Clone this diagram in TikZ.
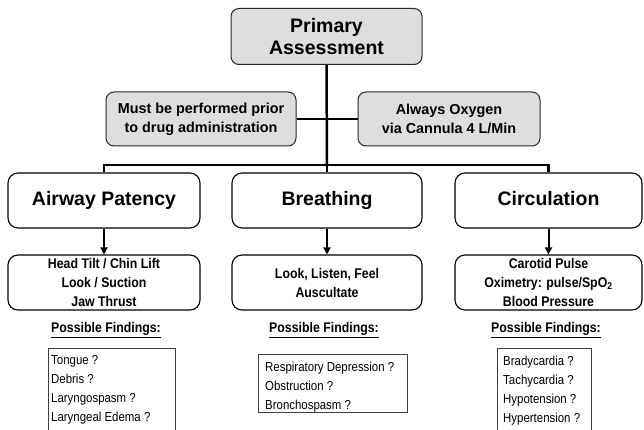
\documentclass[tikz,border=0pt]{standalone}
\usepackage{fontspec}
\setmainfont{Liberation Sans}
\newfontfamily\narrowfont[FakeStretch=0.88]{Liberation Sans}
\usetikzlibrary{arrows.meta}
\tikzset{
  graybox/.style={draw=black!85, line width=1pt, fill=black!13, rounded corners=8pt,
    inner sep=0pt, align=center},
  whitebox/.style={draw=black, line width=1.1pt, fill=white, rounded corners=10pt,
    inner sep=0pt, align=center},
  bigtxt/.style={font=\bfseries\fontsize{19.5}{22}\selectfont},
  l2txt/.style={font=\bfseries\fontsize{19.5}{22}\selectfont, text height=14pt, text depth=4pt},
  sidetxt/.style={font=\bfseries\fontsize{14.4}{19}\selectfont},
  midtxt/.style={font=\narrowfont\bfseries\fontsize{14}{19}\selectfont},
  pftxt/.style={font=\narrowfont\bfseries\fontsize{14}{17}\selectfont, inner sep=0pt},
  findbox/.style={draw=black!75, line width=0.8pt, inner sep=0pt},
  findtxt/.style={font=\narrowfont\fontsize{13}{19}\selectfont, align=left, inner sep=0pt, anchor=north west},
  conn/.style={line width=2.5pt},
  arr/.style={line width=2pt, -{Triangle[length=7pt,width=7pt]}}
}
\begin{document}
\begin{tikzpicture}[x=1pt,y=-1pt]
\useasboundingbox (0,0) rectangle (644,430);
\clip (0,0) rectangle (644,430);

% top
\node[graybox, bigtxt, minimum width=191pt, minimum height=56pt] (pa) at (326.5,36.5) {Primary\\Assessment};
\node[graybox, sidetxt, minimum width=190pt, minimum height=54pt] (sl) at (201,119) {Must be performed prior\\to drug administration};
\node[graybox, sidetxt, minimum width=182pt, minimum height=54pt] (sr) at (449,119) {Always Oxygen\\via Cannula 4 L/Min};

% level 2
\node[whitebox, l2txt, minimum width=192pt, minimum height=55pt] (aw) at (104,200.5) {Airway Patency};
\node[whitebox, l2txt, minimum width=190pt, minimum height=55pt] (br) at (327,200.5) {Breathing};
\node[whitebox, l2txt, minimum width=187pt, minimum height=55pt] (ci) at (548.5,200.5) {Circulation};

% level 3
\node[whitebox, midtxt, minimum width=192pt, minimum height=55pt] (aw3) at (104,282.5) {Head Tilt / Chin Lift\\Look / Suction\\Jaw Thrust};
\node[whitebox, midtxt, minimum width=190pt, minimum height=55pt] (br3) at (327,282.5) {Look, Listen, Feel\\Auscultate};
\node[whitebox, midtxt, minimum width=187pt, minimum height=55pt] (ci3) at (548.5,282.5) {Carotid Pulse\\Oximetry: pulse/SpO\textsubscript{2}\\Blood Pressure};

% possible findings labels
\node[pftxt] (pf1) at (106,330) {\underline{Possible Findings:}};
\node[pftxt] (pf2) at (324,330) {\underline{Possible Findings:}};
\node[pftxt] (pf3) at (546,330) {\underline{Possible Findings:}};

% findings boxes
\node[findbox, minimum width=127pt, minimum height=92pt, anchor=north west] (f1) at (48,348) {};
\node[findtxt] (f1t) at ([xshift=3pt,yshift=-7.5pt]f1.north west) {Tongue ?\\Debris ?\\Laryngospasm ?\\Laryngeal Edema ?};
\node[findbox, minimum width=149pt, minimum height=58pt, anchor=north west] (f2) at (258,354) {};
\node[findtxt] (f2t) at ([xshift=7pt,yshift=-8pt]f2.north west) {Respiratory Depression ?\\Obstruction ?\\Bronchospasm ?};
\node[findbox, minimum width=94pt, minimum height=92pt, anchor=north west] (f3) at (497,348) {};
\node[findtxt] (f3t) at ([xshift=6pt,yshift=-8pt]f3.north west) {Bradycardia ?\\Tachycardia ?\\Hypotension ?\\Hypertension ?};

% connectors
\coordinate (bar) at (327,165);
\draw[conn] (pa.south) -- (bar);
\draw[conn] (sl.east) -- (sl.east -| pa.south);
\draw[conn] (sr.west) -- (sr.west -| pa.south);
\draw[conn] (aw.north) |- (bar) -| (ci.north);
\draw[conn] (bar) -- (br.north);

\draw[arr] (aw.south) -- (aw3.north);
\draw[arr] (br.south) -- (br3.north);
\draw[arr] (ci.south) -- (ci3.north);
\end{tikzpicture}
\end{document}
